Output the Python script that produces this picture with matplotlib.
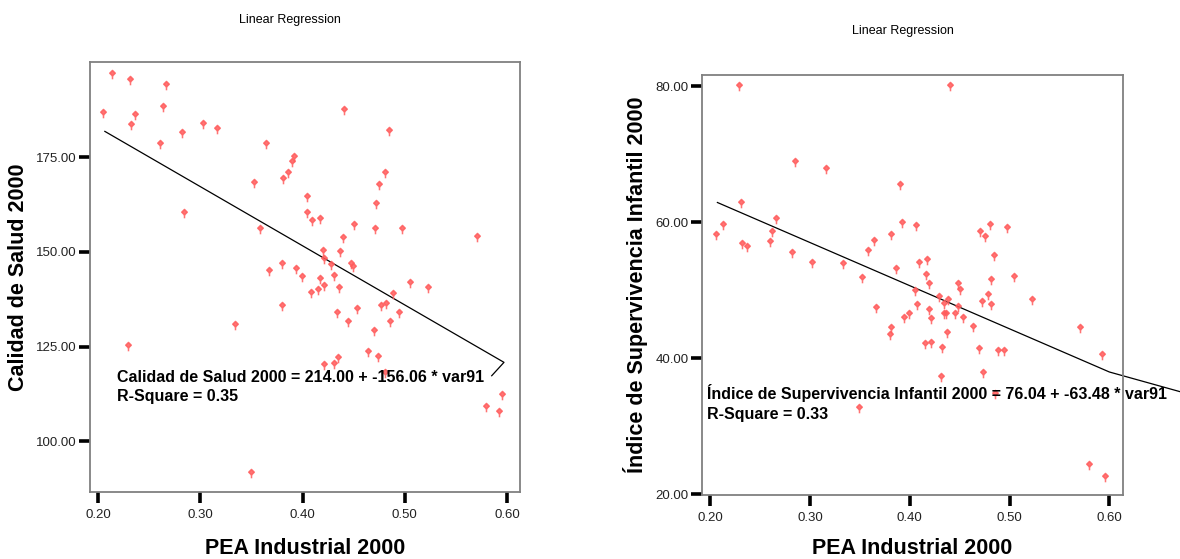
import numpy as np
import matplotlib.pyplot as plt
from matplotlib.path import Path

plt.rcParams['font.family'] = ['Liberation Sans', 'DejaVu Sans']

# Panel izquierdo: PEA Industrial 2000 vs Calidad de Salud 2000
pea_izq = [0.213, 0.231, 0.266, 0.2045, 0.236, 0.232, 0.263, 0.440, 0.3025, 0.316,
           0.282, 0.484, 0.260, 0.3645, 0.3915, 0.390, 0.386, 0.381, 0.481, 0.352,
           0.475, 0.4047, 0.472, 0.2834, 0.404, 0.4096, 0.417, 0.4505, 0.358, 0.4708,
           0.497, 0.5707, 0.439, 0.4197, 0.437, 0.4205, 0.428, 0.447, 0.449, 0.380,
           0.393, 0.367, 0.3995, 0.4167, 0.431, 0.421, 0.415, 0.408, 0.4358, 0.505,
           0.5226, 0.4884, 0.380, 0.4764, 0.4813, 0.453, 0.434, 0.4945, 0.4445, 0.4854,
           0.3337, 0.4697, 0.229, 0.4637, 0.474, 0.4347, 0.431, 0.421, 0.481, 0.5955,
           0.5797, 0.5925, 0.349]
salud = [197.3, 195.7, 194.2, 187.0, 186.4, 183.7, 188.5, 187.8, 184.1, 182.6,
         181.7, 182.2, 178.7, 178.8, 175.3, 174.1, 171.0, 169.5, 171.0, 168.4,
         168.0, 164.7, 162.9, 160.5, 160.5, 158.4, 158.9, 157.3, 156.2, 156.2,
         156.2, 154.1, 153.9, 150.5, 150.2, 148.4, 146.8, 147.1, 146.2, 147.0,
         145.7, 145.2, 143.6, 143.0, 143.8, 141.2, 140.3, 139.5, 140.7, 142.1,
         140.7, 139.2, 136.0, 135.9, 136.4, 135.1, 134.1, 134.1, 131.7, 131.7,
         130.9, 129.3, 125.4, 123.8, 122.5, 122.3, 120.7, 120.4, 118.2, 112.5,
         109.3, 107.9, 91.8]
# recta ajustada tal como se dibuja (con el pequeño gancho final)
ajuste_izq_x = [0.2064, 0.597, 0.585]
ajuste_izq_y = [214.00 - 156.06 * 0.2064, 214.00 - 156.06 * 0.597, 117.3]

# Panel derecho: PEA Industrial 2000 vs Índice de Supervivencia Infantil 2000
pea_der = [0.2289, 0.440, 0.2852, 0.3156, 0.390, 0.2304, 0.2656, 0.213, 0.3919, 0.406,
           0.4807, 0.497, 0.2056, 0.2622, 0.4707, 0.3815, 0.4752, 0.364, 0.2596, 0.2315,
           0.2367, 0.3581, 0.2815, 0.484, 0.3022, 0.333, 0.4089, 0.4167, 0.386, 0.4163,
           0.3519, 0.5044, 0.4811, 0.4196, 0.4485, 0.4504, 0.4048, 0.4296, 0.4781, 0.5222,
           0.4722, 0.4385, 0.4344, 0.4074, 0.4811, 0.4485, 0.3663, 0.4196, 0.434, 0.4363,
           0.4448, 0.3993, 0.3944, 0.421, 0.4533, 0.4633, 0.3815, 0.5704, 0.380, 0.437,
           0.4152, 0.421, 0.4326, 0.4689, 0.4885, 0.4944, 0.5922, 0.4311, 0.4737, 0.4852,
           0.3489, 0.5796, 0.5956]
superviv = [80.2, 80.2, 69.0, 68.0, 65.6, 63.0, 60.6, 59.8, 60.05, 59.6,
            59.8, 59.3, 58.3, 58.75, 58.75, 58.3, 57.9, 57.4, 57.3, 57.0,
            56.5, 55.96, 55.6, 55.2, 54.2, 54.0, 54.2, 54.6, 53.2, 52.3,
            51.9, 52.1, 51.7, 51.0, 51.0, 50.1, 50.0, 49.2, 49.4, 48.7,
            48.45, 48.65, 48.06, 48.0, 47.96, 47.7, 47.57, 47.18, 46.7, 46.64,
            46.64, 46.64, 46.1, 45.85, 46.1, 44.7, 44.5, 44.5, 43.55, 43.9,
            42.2, 42.4, 41.7, 41.5, 41.2, 41.2, 40.65, 37.4, 37.9, 34.9,
            32.85, 24.4, 22.7]
ajuste_der_x = [0.2071, 0.600, 0.671]
ajuste_der_y = [76.04 - 63.48 * 0.2071, 76.04 - 63.48 * 0.600, 35.05]

# marcador tipo SPSS: rombo con un pequeño rabo hacia abajo
verts = [(0, 1), (0.9, 0.1), (0, -0.8), (-0.9, 0.1), (0, 1), (0, -0.8), (0, -1.9)]
codes = [Path.MOVETO, Path.LINETO, Path.LINETO, Path.LINETO, Path.CLOSEPOLY,
         Path.MOVETO, Path.LINETO]
marca = Path(verts, codes)
rojo = '#ff5c5c'

fig = plt.figure(figsize=(11.8, 5.59), dpi=100)
ax1 = fig.add_axes([0.0763, 0.1191, 0.3644, 0.7693])
ax2 = fig.add_axes([0.5947, 0.1136, 0.3573, 0.7528])


def estilo(ax):
    for s in ax.spines.values():
        s.set_color('#808080')
        s.set_linewidth(1.3)
    ax.tick_params(axis='both', direction='out', length=8, width=2.6,
                   color='black', labelsize=9.5, labelcolor='#222222')
    ax.tick_params(axis='x', pad=4)
    ax.tick_params(axis='y', pad=1.5)
    ax.xaxis.set_major_formatter(plt.FormatStrFormatter('%.2f'))
    ax.yaxis.set_major_formatter(plt.FormatStrFormatter('%.2f'))


# izquierda
ax1.scatter(pea_izq, salud, marker=marca, s=70, facecolors=rojo, edgecolors=rojo,
            linewidths=1.1, alpha=0.85, zorder=3)
ax1.plot(ajuste_izq_x, ajuste_izq_y, color='black', lw=0.9, zorder=2)
ax1.set_xlim(0.1919, 0.6127)
ax1.set_ylim(86.5, 200)
ax1.set_xticks([0.2, 0.3, 0.4, 0.5, 0.6])
ax1.set_yticks([100, 125, 150, 175])
estilo(ax1)
ax1.set_xlabel('PEA Industrial 2000', fontsize=15.5, fontweight='bold')
ax1.set_ylabel('Calidad de Salud 2000', fontsize=15.5, fontweight='bold')
ax1.xaxis.set_label_coords(0.5, -0.106)
ax1.yaxis.set_label_coords(-0.142, 0.5)
ax1.text(0.063, 0.245, 'Calidad de Salud 2000 = 214.00 + -156.06 * var91\nR-Square = 0.35',
         transform=ax1.transAxes, fontsize=11.5, fontweight='bold', va='center',
         linespacing=1.35)
fig.text(290 / 1180, 1 - 20 / 559, 'Linear Regression', ha='center', va='center', fontsize=9)

# derecha
ax2.scatter(pea_der, superviv, marker=marca, s=70, facecolors=rojo, edgecolors=rojo,
            linewidths=1.1, alpha=0.85, zorder=3)
ax2.plot(ajuste_der_x, ajuste_der_y, color='black', lw=0.9, zorder=2, clip_on=False)
ax2.set_xlim(0.1914, 0.614)
ax2.set_ylim(19.78, 81.7)
ax2.set_xticks([0.2, 0.3, 0.4, 0.5, 0.6])
ax2.set_yticks([20, 40, 60, 80])
estilo(ax2)
ax2.set_xlabel('PEA Industrial 2000', fontsize=15.5, fontweight='bold')
ax2.set_ylabel('Índice de Supervivencia Infantil 2000', fontsize=15.5, fontweight='bold')
ax2.xaxis.set_label_coords(0.5, -0.1)
ax2.yaxis.set_label_coords(-0.127, 0.5)
ax2.text(0.0135, 0.22,
         'Índice de Supervivencia Infantil 2000 = 76.04 + -63.48 * var91\nR-Square = 0.33',
         transform=ax2.transAxes, fontsize=11.5, fontweight='bold', va='center',
         linespacing=1.35)
fig.text(903 / 1180, 1 - 31 / 559, 'Linear Regression', ha='center', va='center', fontsize=9)

fig.savefig('out.png', dpi=100)
